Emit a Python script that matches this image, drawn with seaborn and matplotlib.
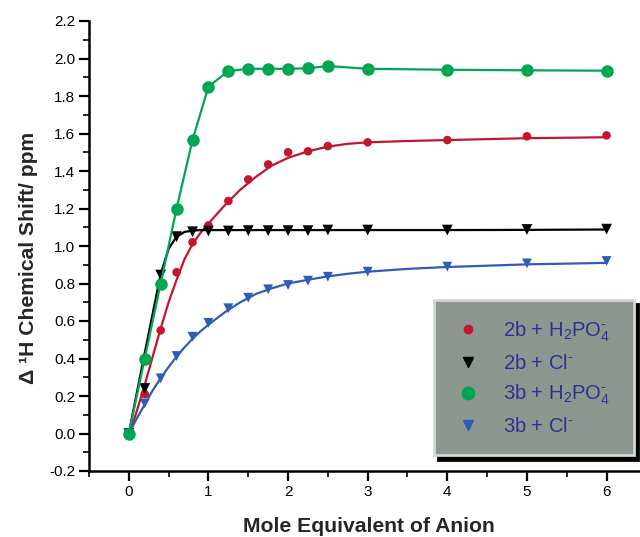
import matplotlib
matplotlib.use("Agg")
import matplotlib.pyplot as plt
from matplotlib.lines import Line2D
from matplotlib.ticker import MultipleLocator
import pandas as pd
import seaborn as sns

# titration points (mole equivalents of anion)
eq_x = [0, 0.2, 0.4, 0.6, 0.8, 1.0, 1.25, 1.5, 1.75, 2.0, 2.25, 2.5, 3, 4, 5, 6]
red_y = [0, 0.21, 0.55, 0.86, 1.02, 1.11, 1.24, 1.355, 1.435, 1.50, 1.505, 1.533, 1.553, 1.565, 1.585, 1.59]
black_y = [0, 0.24, 0.845, 1.05, 1.076, 1.08, 1.08, 1.082, 1.082, 1.082, 1.082, 1.085, 1.085, 1.085, 1.088, 1.09]
green_y = [0, 0.40, 0.80, 1.20, 1.565, 1.85, 1.933, 1.945, 1.945, 1.945, 1.948, 1.96, 1.945, 1.94, 1.937, 1.935]
blue_y = [0, 0.16, 0.294, 0.413, 0.516, 0.59, 0.668, 0.724, 0.769, 0.792, 0.815, 0.836, 0.863, 0.89, 0.907, 0.92]

# fitted curves
fit_x = [0, 0.1, 0.2, 0.3, 0.4, 0.5, 0.6, 0.7, 0.8, 0.9, 1.0, 1.2, 1.4, 1.6, 1.8, 2.0, 2.25, 2.5, 2.75, 3.0, 3.5, 4.0, 5.0, 6.0]
red_fit = [-0.02, 0.12, 0.26, 0.41, 0.56, 0.70, 0.82, 0.93, 1.01, 1.07, 1.12, 1.215, 1.30, 1.37, 1.43, 1.47, 1.505, 1.53, 1.545, 1.553, 1.56, 1.565, 1.575, 1.58]
black_fit = [0, 0.215, 0.43, 0.64, 0.85, 0.985, 1.05, 1.075, 1.082, 1.085, 1.085, 1.085, 1.085, 1.085, 1.085, 1.085, 1.085, 1.085, 1.085, 1.085, 1.085, 1.085, 1.086, 1.088]
blue_fit = [0, 0.08, 0.155, 0.23, 0.295, 0.355, 0.41, 0.46, 0.505, 0.545, 0.58, 0.645, 0.70, 0.745, 0.775, 0.80, 0.82, 0.838, 0.852, 0.863, 0.878, 0.888, 0.902, 0.91]

labels = ["2b + H$_2$PO$_4^{\u2010}$", "2b + Cl$^{\u2010}$", "3b + H$_2$PO$_4^{\u2010}$", "3b + Cl$^{\u2010}$"]

RED, BLACK, GREEN, BLUE = "#c4152d", "#000000", "#00a651", "#2f5cb8"

sns.set_style("ticks")
plt.rcParams["font.family"] = ["Liberation Sans", "DejaVu Sans"]
plt.rcParams["mathtext.fontset"] = "custom"
plt.rcParams["mathtext.rm"] = "Liberation Sans"
plt.rcParams["mathtext.default"] = "regular"

pts = pd.DataFrame({"x": eq_x, "red": red_y, "black": black_y, "green": green_y, "blue": blue_y})
fit = pd.DataFrame({"x": fit_x, "red": red_fit, "black": black_fit, "blue": blue_fit})

fig = plt.figure(figsize=(6.4, 5.37), dpi=100)
ax = fig.add_axes([89 / 640, 66 / 537, 1 - 89 / 640, 450 / 537])

# red
sns.lineplot(data=fit, x="x", y="red", color=RED, lw=1.6, sort=False, estimator=None, ax=ax)
sns.scatterplot(data=pts, x="x", y="red", color=RED, marker="o", s=38, edgecolor="none", ax=ax, zorder=3)
# black
sns.lineplot(data=fit, x="x", y="black", color=BLACK, lw=1.6, sort=False, estimator=None, ax=ax)
sns.scatterplot(data=pts, x="x", y="black", color=BLACK, marker="v", s=60, edgecolor="none", ax=ax, zorder=3)
# blue
sns.lineplot(data=fit, x="x", y="blue", color=BLUE, lw=1.6, sort=False, estimator=None, ax=ax)
sns.scatterplot(data=pts, x="x", y="blue", color=BLUE, marker="v", s=50, edgecolor="none", ax=ax, zorder=3)
# green (joined points)
sns.lineplot(data=pts, x="x", y="green", color=GREEN, lw=1.6, sort=False, estimator=None,
             marker="o", markersize=9, markeredgecolor="none", ax=ax, zorder=4)

ax.set_xlim(-0.5, 6.42)
ax.set_ylim(-0.2, 2.2)
ax.xaxis.set_major_locator(MultipleLocator(1))
ax.xaxis.set_minor_locator(MultipleLocator(0.5))
ax.yaxis.set_major_locator(MultipleLocator(0.2))
ax.yaxis.set_minor_locator(MultipleLocator(0.1))
ax.yaxis.set_major_formatter(matplotlib.ticker.FormatStrFormatter("%.1f"))
ax.set_xticks([0, 1, 2, 3, 4, 5, 6])

for s in ["top", "right"]:
    ax.spines[s].set_visible(False)
for s in ["left", "bottom"]:
    ax.spines[s].set_linewidth(1.8)
    ax.spines[s].set_color("black")
ax.tick_params(which="major", direction="out", length=7, width=1.6, labelsize=11, pad=3, colors="black")
ax.tick_params(which="minor", direction="out", length=4, width=1.4)

ax.set_xlabel("Mole Equivalent of Anion", fontsize=15.2, fontweight="bold")
ax.set_ylabel("\u0394 \u00b9H Chemical Shift/ ppm", fontsize=15.2, fontweight="bold")
ax.xaxis.set_label_coords(0.508, -0.102)
ax.yaxis.set_label_coords(-0.093, 0.473)

handles = [
    Line2D([], [], ls="none", marker="o", color=RED, markersize=6),
    Line2D([], [], ls="none", marker="v", color=BLACK, markersize=7.5),
    Line2D([], [], ls="none", marker="o", color=GREEN, markersize=9),
    Line2D([], [], ls="none", marker="v", color=BLUE, markersize=7),
]
leg_top = 1 - 300 / 537
leg = ax.legend(handles, labels, loc="upper left", mode="expand",
                bbox_to_anchor=(434 / 640, leg_top - 0.1, 200 / 640, 0.1),
                bbox_transform=fig.transFigure, borderaxespad=0,
                fontsize=14.5, labelcolor="#2e3192", frameon=True, fancybox=False,
                facecolor="#8e9690", edgecolor="#d4d8d4", framealpha=1,
                shadow={"ox": 3, "oy": -3, "color": "black", "alpha": 1},
                borderpad=0.95, handlelength=1.5, handletextpad=1.0, labelspacing=0.5)
leg.get_frame().set_linewidth(2)

fig.savefig("out.png", dpi=100)
plt.close(fig)
